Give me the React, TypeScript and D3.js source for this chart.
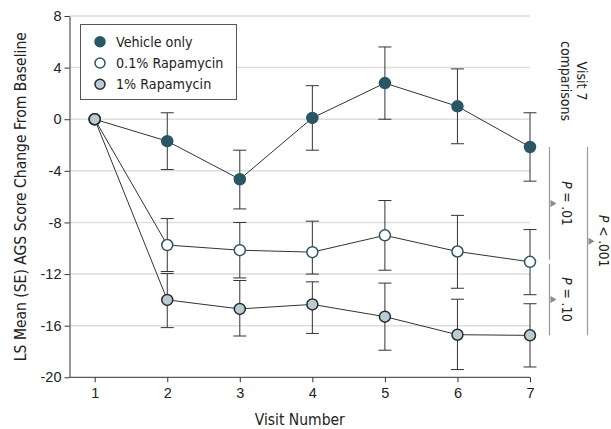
import React, { useEffect, useRef } from 'react';
import * as d3 from 'd3';

const visits = [1, 2, 3, 4, 5, 6, 7];
const yTicks = [8, 4, 0, -4, -8, -12, -16, -20];

// mean, SE upper, SE lower for each visit
const vehicleMean = [0, -1.7, -4.65, 0.1, 2.8, 1.0, -2.15];
const vehicleHi = [null, 0.5, -2.4, 2.6, 5.6, 3.9, 0.5];
const vehicleLo = [null, -3.9, -6.95, -2.4, 0, -1.9, -4.8];

const lowDoseMean = [0, -9.75, -10.15, -10.3, -9.0, -10.25, -11.05];
const lowDoseHi = [null, -7.7, -8.0, -7.9, -6.3, -7.45, -8.55];
const lowDoseLo = [null, -11.8, -12.3, -12.0, -11.7, -13.1, -13.6];

const highDoseMean = [0, -14.0, -14.7, -14.35, -15.3, -16.7, -16.75];
const highDoseHi = [null, -11.95, -12.5, -12.6, -12.7, -13.95, -14.3];
const highDoseLo = [null, -16.15, -16.8, -16.6, -17.9, -19.4, -19.2];

const seriesNames = ['Vehicle only', '0.1% Rapamycin', '1% Rapamycin'];
const comparisons = [
  { from: 0, to: 1, label: '.01', op: '=' },
  { from: 1, to: 2, label: '.10', op: '=' },
  { from: 0, to: 2, label: '.001', op: '<' },
];

const FONT = "'DejaVu Sans Condensed', 'DejaVu Sans', sans-serif";

const Chart = ({ width = 611, height = 429 }) => {
  const ref = useRef<SVGSVGElement>(null);

  useEffect(() => {
    const svg = d3.select(ref.current);
    svg.selectAll('*').remove();
    svg.attr('width', width).attr('height', height);

    const x = d3.scaleLinear().domain([1, 7]).range([94.7, 530]);
    const y = d3.scaleLinear().domain([-20, 8]).range([377.3, 16]);
    const left = 69.5;

    const g = svg
      .append('g')
      .style('font-family', FONT)
      .style('font-stretch', 'condensed');

    // gridlines
    g.selectAll('line.grid')
      .data(yTicks.filter((t) => t !== -20))
      .enter()
      .append('line')
      .attr('x1', left)
      .attr('x2', x(7))
      .attr('y1', (d) => y(d))
      .attr('y2', (d) => y(d))
      .attr('stroke', '#dedede')
      .attr('stroke-width', 1.5);

    // y axis (plain hyphen for negatives, like the original)
    const yAxis = g
      .append('g')
      .attr('transform', `translate(${left},0)`)
      .call(
        d3.axisLeft(y)
          .tickValues(yTicks)
          .tickFormat((d) => String(d))
          .tickSize(5)
          .tickSizeOuter(0)
      );
    yAxis.select('.domain').attr('stroke', '#333');
    yAxis.selectAll('.tick line').attr('stroke', '#333');
    yAxis
      .selectAll('.tick text')
      .attr('font-family', null)
      .attr('font-size', 14.5)
      .attr('fill', '#222')
      .attr('x', -8);

    // x axis
    const xAxis = g
      .append('g')
      .attr('transform', `translate(0,${y(-20)})`)
      .call(d3.axisBottom(x).tickValues(visits).tickFormat(d3.format('d')).tickSize(5).tickSizeOuter(0));
    xAxis.select('.domain').attr('d', `M${left},0H${x(7)}`).attr('stroke', '#333');
    xAxis.selectAll('.tick line').attr('stroke', '#333');
    xAxis
      .selectAll('.tick text')
      .attr('font-family', null)
      .attr('font-size', 14.5)
      .attr('fill', '#222')
      .attr('y', 10.5);

    g.append('text')
      .attr('x', (left + x(7)) / 2)
      .attr('y', 425)
      .attr('text-anchor', 'middle')
      .attr('font-size', 15.5)
      .attr('fill', '#222')
      .text('Visit Number');

    g.append('text')
      .attr('transform', `translate(26,${y(-6)}) rotate(-90)`)
      .attr('text-anchor', 'middle')
      .attr('font-size', 15.5)
      .attr('fill', '#222')
      .text('LS Mean (SE) AGS Score Change From Baseline');

    const series = [
      { mean: vehicleMean, hi: vehicleHi, lo: vehicleLo, fill: '#2b5663', stroke: '#2b5663' },
      { mean: lowDoseMean, hi: lowDoseHi, lo: lowDoseLo, fill: '#ffffff', stroke: '#2b5663' },
      { mean: highDoseMean, hi: highDoseHi, lo: highDoseLo, fill: '#b9ccd3', stroke: '#2a2a2a' },
    ];

    const line = d3
      .line<number>()
      .x((d, i) => x(visits[i]))
      .y((d) => y(d));

    series.forEach((s) => {
      g.append('path')
        .attr('d', line(s.mean))
        .attr('fill', 'none')
        .attr('stroke', '#333')
        .attr('stroke-width', 1);
    });

    series.forEach((s) => {
      const errs = visits
        .map((v, i) => ({ v, hi: s.hi[i], lo: s.lo[i] }))
        .filter((d) => d.hi !== null);
      errs.forEach((d) => {
        const cx = x(d.v);
        g.append('line')
          .attr('x1', cx).attr('x2', cx)
          .attr('y1', y(d.hi as number)).attr('y2', y(d.lo as number))
          .attr('stroke', '#333');
        [d.hi, d.lo].forEach((val) => {
          g.append('line')
            .attr('x1', cx - 6.5).attr('x2', cx + 6.5)
            .attr('y1', y(val as number)).attr('y2', y(val as number))
            .attr('stroke', '#333');
        });
      });
    });

    // markers
    series.forEach((s) => {
      g.selectAll(null)
        .data(s.mean)
        .enter()
        .append('circle')
        .attr('cx', (d, i) => x(visits[i]))
        .attr('cy', (d) => y(d))
        .attr('r', 5.5)
        .attr('fill', s.fill)
        .attr('stroke', s.stroke)
        .attr('stroke-width', 1.5);
    });

    // legend
    const lg = g.append('g');
    lg.append('rect')
      .attr('x', 80.5).attr('y', 24.5)
      .attr('width', 156).attr('height', 75)
      .attr('fill', '#fff')
      .attr('stroke', '#555');
    seriesNames.forEach((name, i) => {
      const cy = 41.7 + i * 21.3;
      lg.append('circle')
        .attr('cx', 100).attr('cy', cy).attr('r', 5)
        .attr('fill', series[i].fill)
        .attr('stroke', series[i].stroke)
        .attr('stroke-width', 1.5);
      lg.append('text')
        .attr('x', 116).attr('y', cy + 5)
        .attr('font-size', 14.2)
        .attr('fill', '#222')
        .text(name);
    });

    // visit 7 comparisons
    g.append('text')
      .attr('transform', `translate(577,81) rotate(90)`)
      .attr('text-anchor', 'middle')
      .attr('font-size', 14)
      .attr('fill', '#222')
      .selectAll('tspan')
      .data(['Visit 7', 'comparisons'])
      .enter()
      .append('tspan')
      .attr('x', 0)
      .attr('dy', (d, i) => (i === 0 ? 0 : 16))
      .text((d) => d);

    const last = visits.length - 1;
    const lastMeans = series.map((s) => y(s.mean[last]));
    comparisons.forEach((c, i) => {
      const lx = i < 2 ? 549.5 : 587.5;
      const y1 = lastMeans[c.from] + (c.from === 1 ? 2 : 0);
      const y2 = lastMeans[c.to] - (c.to === 1 ? 2 : 0);
      const mid = (y1 + y2) / 2;
      g.append('line')
        .attr('x1', lx).attr('x2', lx)
        .attr('y1', y1).attr('y2', y2)
        .attr('stroke', '#9a9a9a')
        .attr('stroke-width', 1.2);
      g.append('path')
        .attr('d', `M${lx + 1},${mid - 3.5}L${lx + 7},${mid}L${lx + 1},${mid + 3.5}Z`)
        .attr('fill', '#8a8a8a');
      const t = g.append('text')
        .attr('transform', `translate(${lx + (i < 2 ? 12.5 : 11.5)},${mid}) rotate(90)`)
        .attr('text-anchor', 'middle')
        .attr('font-size', 13.5)
        .attr('fill', '#222');
      t.append('tspan').attr('font-style', 'italic').text('P');
      t.append('tspan').text(` ${c.op} ${c.label}`);
    });
  }, [width, height]);

  return <svg ref={ref} style={{ position: 'absolute', top: 0, left: 0 }}></svg>;
};

export default function App() {
  return <Chart />;
}
